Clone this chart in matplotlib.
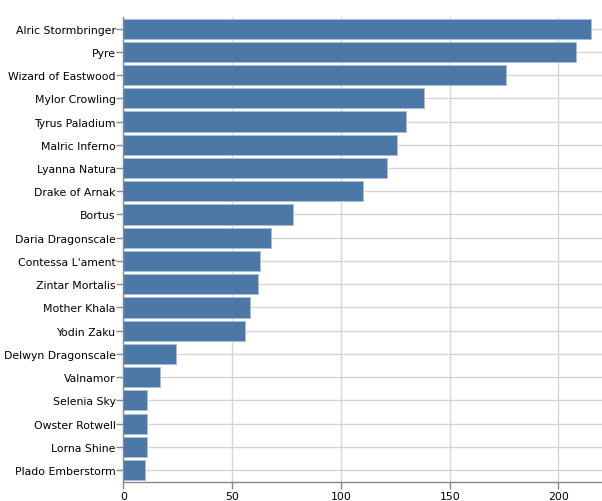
import matplotlib
matplotlib.use("Agg")
import matplotlib.pyplot as plt

names = ["Alric Stormbringer", "Pyre", "Wizard of Eastwood", "Mylor Crowling",
         "Tyrus Paladium", "Malric Inferno", "Lyanna Natura", "Drake of Arnak",
         "Bortus", "Daria Dragonscale", "Contessa L'ament", "Zintar Mortalis",
         "Mother Khala", "Yodin Zaku", "Delwyn Dragonscale", "Valnamor",
         "Selenia Sky", "Owster Rotwell", "Lorna Shine", "Plado Emberstorm"]
values = [215, 208, 176, 138, 130, 126, 121, 110, 78, 68,
          63, 62, 58, 56, 24, 17, 11, 11, 11, 10]
xticks = [0, 50, 100, 150, 200]

fig = plt.figure(figsize=(6.02, 5.02), dpi=100)
ax = fig.add_axes([123.3/602, 19.3/502, (602-123.3)/602, (482.7-18)/502])

ypos = list(range(len(names)))
ax.barh(ypos, values, height=0.87, color="#4c78a8", edgecolor="#a6bfdc",
        linewidth=0.7, zorder=2)
ax.set_ylim(len(names)-0.5, -0.5)
ax.set_xlim(0, 220)
ax.set_yticks(ypos)
ax.set_yticklabels(names)
ax.set_xticks(xticks)
ax.set_xticklabels([str(t) for t in xticks])

ax.grid(True, color="#d6d6d6", linewidth=1, zorder=0)
ax.set_axisbelow(True)
for s in ["top", "right"]:
    ax.spines[s].set_visible(False)
for s in ["left", "bottom"]:
    ax.spines[s].set_color("#888888")
    ax.spines[s].set_linewidth(1)
ax.tick_params(axis="both", colors="#888888", length=5, width=1,
               labelcolor="black", labelsize=7.8, pad=2)
ax.tick_params(axis="y", pad=0.5)
ax.set_facecolor("white")
fig.savefig("out.png", dpi=100)
